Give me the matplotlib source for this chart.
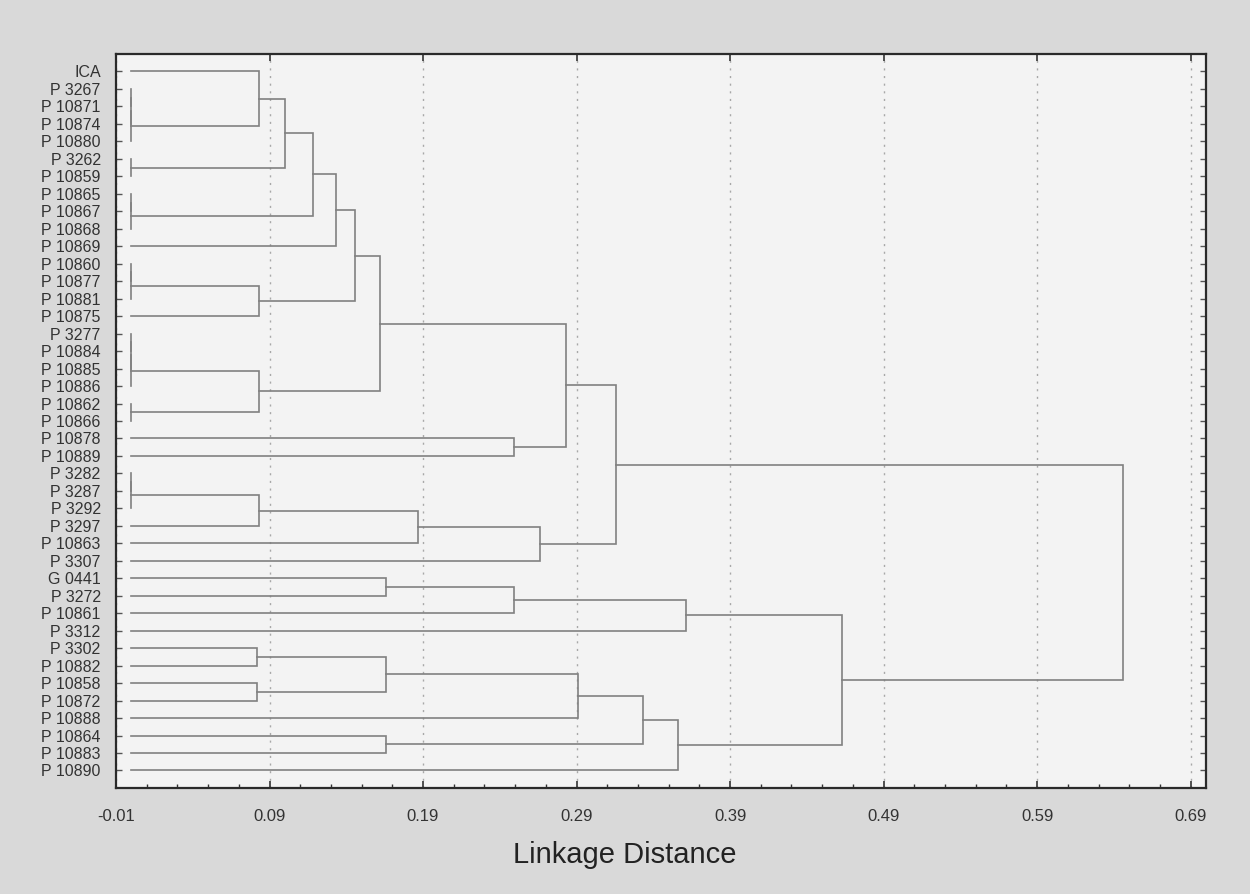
import numpy as np
import matplotlib.pyplot as plt
from matplotlib.ticker import FixedLocator

# Leaf labels, top to bottom
labels = ["ICA", "P 3267", "P 10871", "P 10874", "P 10880", "P 3262", "P 10859",
          "P 10865", "P 10867", "P 10868", "P 10869", "P 10860", "P 10877", "P 10881",
          "P 10875", "P 3277", "P 10884", "P 10885", "P 10886", "P 10862", "P 10866",
          "P 10878", "P 10889", "P 3282", "P 3287", "P 3292", "P 3297", "P 10863",
          "P 3307", "G 0441", "P 3272", "P 10861", "P 3312", "P 3302", "P 10882",
          "P 10858", "P 10872", "P 10888", "P 10864", "P 10883", "P 10890"]

# Merges (left, right, linkage distance); leaves are 0..40, clusters 41 onwards
merges = [
    (1, 2, 0.0), (41, 3, 0.0), (42, 4, 0.0), (0, 43, 0.083),      # 41-44
    (5, 6, 0.0), (44, 45, 0.100),                                   # 45-46
    (7, 8, 0.0), (47, 9, 0.0), (46, 48, 0.118), (49, 10, 0.133),    # 47-50
    (11, 12, 0.0), (51, 13, 0.0), (52, 14, 0.083), (50, 53, 0.146), # 51-54
    (15, 16, 0.0), (55, 17, 0.0), (56, 18, 0.0), (19, 20, 0.0),     # 55-58
    (57, 58, 0.083), (54, 59, 0.162),                               # 59-60
    (21, 22, 0.249), (60, 61, 0.283),                               # 61-62
    (23, 24, 0.0), (63, 25, 0.0), (64, 26, 0.083), (65, 27, 0.187), # 63-66
    (66, 28, 0.266), (62, 67, 0.316),                               # 67-68
    (29, 30, 0.166), (69, 31, 0.249), (70, 32, 0.361),              # 69-71
    (33, 34, 0.082), (35, 36, 0.082), (72, 73, 0.166),              # 72-74
    (74, 37, 0.291), (38, 39, 0.166), (75, 76, 0.333),              # 75-77
    (77, 40, 0.356), (71, 78, 0.463), (68, 79, 0.646),              # 78-80
]

x_major = [-0.01, 0.09, 0.19, 0.29, 0.39, 0.49, 0.59, 0.69]

fig = plt.figure(figsize=(12.5, 8.94), dpi=100, facecolor="#d9d9d9")
ax = fig.add_axes([0.0928, 0.1186, 0.872, 0.8210])
ax.set_facecolor("#f3f3f3")

n = len(labels)
pos = {i: (0.0, float(i)) for i in range(n)}
for k, (a, b, h) in enumerate(merges):
    xa, ya = pos[a]
    xb, yb = pos[b]
    ax.plot([xa, h, h, xb], [ya, ya, yb, yb], color="#808080", lw=1.2,
            solid_joinstyle="miter")
    pos[n + k] = (h, (ya + yb) / 2)

ax.set_xlim(-0.01, 0.70)
ax.set_ylim(n, -1)

ax.xaxis.set_major_locator(FixedLocator(x_major))
ax.xaxis.set_minor_locator(FixedLocator(np.arange(-0.01, 0.70, 0.02)))
ax.set_xticklabels([f"{v:.2f}" for v in x_major],
                   family=["Liberation Sans Narrow", "Liberation Sans", "DejaVu Sans"],
                   fontsize=12, color="#333333")
ax.set_yticks(range(n))
ax.set_yticklabels(labels, family=["Liberation Sans", "DejaVu Sans"],
                   fontsize=11.5, color="#333333")

ax.tick_params(axis="x", which="major", direction="in", length=5, width=1.2,
               top=True, pad=15, color="#333333")
ax.tick_params(axis="x", which="minor", direction="in", length=3, width=1,
               top=False, color="#333333")
ax.tick_params(axis="y", direction="in", length=4, width=1, right=True,
               pad=11, color="#555555")

ax.grid(axis="x", which="major", linestyle=(0, (1.5, 4)), color="#a8a8a8", lw=1)
for s in ax.spines.values():
    s.set_color("#2a2a2a")
    s.set_linewidth(1.6)

fig.text(0.5, 1 - 855 / 894, "Linkage Distance", ha="center", va="center",
         family=["Liberation Sans", "DejaVu Sans"], fontsize=21, color="#222222")

fig.savefig("out.png", dpi=100, facecolor=fig.get_facecolor())
